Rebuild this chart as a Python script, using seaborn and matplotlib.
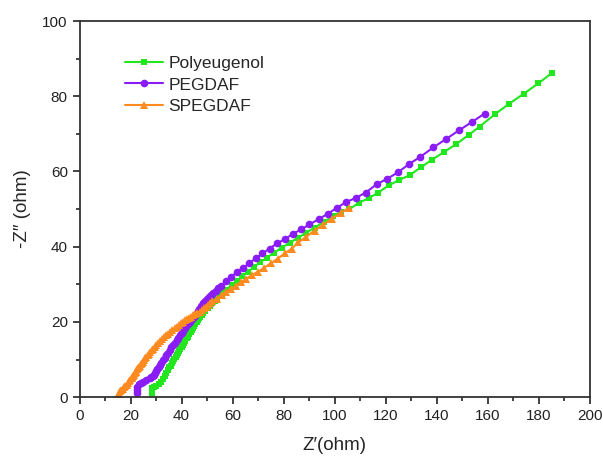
import matplotlib
matplotlib.use("Agg")
import matplotlib.pyplot as plt
import seaborn as sns
import pandas as pd
from matplotlib.ticker import MultipleLocator

sns.set_theme(style="ticks")
plt.rcParams['font.family'] = ['Liberation Sans', 'DejaVu Sans']

poly_x = [28.3, 28.2, 28.5, 29.2, 30.1, 31.1, 32.1, 32.8, 33.4, 34.0, 34.7, 35.2, 35.7, 36.2, 36.7, 37.2,
          37.6, 38.1, 38.6, 39.0, 39.5, 40.0, 40.5, 41.0, 41.5, 42.0, 42.5, 43.0, 43.5, 44.0, 44.5, 45.0,
          45.4, 45.9, 46.4, 46.9, 47.4, 47.9, 48.4, 49.3, 50.3, 51.1, 52.0, 52.9, 53.8, 54.7, 55.7, 56.6,
          57.6, 59.6, 61.6, 63.7, 66.0, 68.4, 70.9, 73.5,
          76.3, 79.2, 82.3, 85.5, 88.8, 92.2, 95.8, 99.5, 102.5, 105.8, 109.6, 113.4, 117.1, 121.2, 125.2,
          129.4, 133.8, 138.1, 142.7, 147.5, 152.5, 156.8, 162.8, 168.4, 174.2, 179.8, 185.4]
poly_y = [0.8, 1.6, 2.4, 2.7, 3.0, 3.5, 4.1, 4.8, 5.5, 6.4, 7.3, 7.9, 8.4, 9.0, 9.5, 10.1,
          10.6, 11.2, 11.7, 12.3, 12.8, 13.4, 13.9, 14.5, 15.0, 15.6, 16.1, 16.7, 17.2, 17.8, 18.3, 18.9,
          19.4, 20.0, 20.5, 21.0, 21.4, 21.9, 22.3, 23.0, 23.6, 24.3, 25.0, 25.6, 26.2, 26.8, 27.4, 28.0,
          28.6, 29.8, 30.9, 32.1, 33.3, 34.6, 35.9, 37.1,
          38.4, 39.7, 41.0, 42.3, 43.7, 45.1, 46.6, 48.2, 49.3, 50.0, 51.7, 52.9, 54.4, 56.3, 57.7,
          59.0, 61.1, 63.1, 65.1, 67.2, 69.7, 71.9, 75.2, 78.0, 80.7, 83.4, 86.3]

peg_x = [22.6, 22.4, 22.6, 23.3, 24.0, 24.9, 26.2, 27.5, 28.1, 28.6, 29.1, 29.5, 30.0, 30.5, 31.0, 31.4,
         32.0, 32.7, 33.3, 34.0, 34.6, 35.3, 36.0, 36.7, 37.3, 38.0, 38.6, 39.3, 40.0, 40.6, 41.3, 41.9,
         42.5, 43.2, 43.8, 44.5, 45.1, 45.8, 46.3, 46.9, 47.5, 48.2, 49.0, 49.8, 50.6, 51.5, 52.4, 53.4,
         54.4, 55.4, 57.4, 59.5, 61.7, 64.0, 66.5, 69.1, 71.7,
         74.5, 77.5, 80.5, 83.6, 86.9, 90.1, 93.7, 97.2, 100.8, 104.6, 108.4, 112.2, 116.5, 120.7, 124.9,
         129.0, 133.4, 138.7, 143.6, 148.7, 153.7, 158.8]
peg_y = [1.2, 2.0, 2.8, 3.5, 3.8, 4.1, 4.5, 5.0, 5.3, 5.6, 6.0, 6.4, 6.9, 7.5, 8.0, 8.6,
         9.2, 9.9, 10.5, 11.2, 11.8, 12.5, 13.2, 13.9, 14.5, 15.2, 15.8, 16.5, 17.1, 17.7, 18.3, 18.8,
         19.4, 19.9, 20.5, 21.0, 21.6, 22.1, 22.8, 23.5, 24.2, 25.0, 25.5, 26.0, 26.6, 27.2, 27.7, 28.3,
         29.0, 29.6, 30.8, 32.0, 33.3, 34.3, 35.6, 36.9, 38.2,
         39.5, 40.9, 42.0, 43.4, 44.6, 45.9, 47.3, 48.7, 50.3, 51.9, 53.0, 54.4, 56.6, 58.1, 59.8,
         61.9, 63.8, 66.4, 68.6, 70.9, 73.1, 75.4]

speg_x = [15.1, 15.3, 15.6, 16.0, 16.4, 16.9, 17.4, 17.9, 18.4, 18.9, 19.4, 19.9, 20.4, 20.7, 21.0, 21.3,
          21.6, 22.0, 22.3, 22.6, 22.9, 23.2, 23.6, 24.0, 24.3, 24.7, 25.2, 25.7, 26.2, 26.7, 27.2, 27.7,
          28.2, 28.8, 29.5, 30.1, 30.8, 31.6, 32.4, 33.2, 34.0, 34.8, 35.6, 36.4, 37.3, 38.1, 38.9, 39.7,
          40.5, 41.3, 42.1, 43.0, 43.8, 44.6, 45.4, 46.2, 47.1, 47.9, 48.7, 49.4, 50.2, 51.1, 52.1,
          53.9, 55.7, 57.5, 59.5, 61.4, 63.4, 65.4, 67.7, 70.1, 72.4, 75.0, 77.6, 80.4, 83.2, 85.8, 88.8,
          92.1, 95.5, 98.9, 102.4, 105.8]
speg_y = [0.6, 0.9, 1.2, 1.5, 1.9, 2.2, 2.6, 2.9, 3.3, 3.8, 4.2, 4.6, 5.0, 5.3, 5.7, 6.0,
          6.4, 6.7, 7.0, 7.4, 7.7, 8.0, 8.3, 8.7, 9.0, 9.4, 9.9, 10.3, 10.8, 11.2, 11.6, 12.0,
          12.4, 12.9, 13.4, 13.8, 14.3, 14.8, 15.4, 15.9, 16.5, 16.9, 17.4, 17.8, 18.3, 18.7, 19.2, 19.6,
          20.1, 20.4, 20.8, 21.1, 21.4, 21.8, 22.1, 22.4, 22.7, 23.1, 23.6, 24.0, 24.5, 25.0, 25.5,
          26.2, 27.1, 28.0, 28.8, 29.6, 30.6, 31.5, 32.5, 33.4, 34.4, 35.6, 36.8, 38.2, 39.5, 41.2, 42.6,
          44.3, 45.8, 47.4, 49.0, 50.4]

series = [
    ("Polyeugenol", poly_x, poly_y, "#22e61e", "s", 4.5),
    ("PEGDAF", peg_x, peg_y, "#8a1cf5", "o", 5.5),
    ("SPEGDAF", speg_x, speg_y, "#ff8a1f", "^", 5.5),
]

fig = plt.figure(figsize=(6.03, 4.57), dpi=100)
ax = fig.add_axes([0.132, 0.131, 0.846, 0.823])

for name, xs, ys, col, mk, ms in series:
    df = pd.DataFrame({"x": xs, "y": ys})
    sns.lineplot(data=df, x="x", y="y", ax=ax, sort=False, estimator=None,
                 color=col, marker=mk, markersize=ms, markeredgewidth=0,
                 linewidth=1.5, label=name)

ax.set_xlim(0, 200)
ax.set_ylim(0, 100)
ax.xaxis.set_major_locator(MultipleLocator(20))
ax.xaxis.set_minor_locator(MultipleLocator(10))
ax.yaxis.set_major_locator(MultipleLocator(20))
ax.yaxis.set_minor_locator(MultipleLocator(10))
ax.tick_params(which="major", direction="out", length=5, width=1.2, labelsize=11,
               colors="#222222", top=False, right=False)
ax.tick_params(which="minor", direction="out", length=3, width=1.2, top=False, right=False)
for s in ax.spines.values():
    s.set_linewidth(1.3)
    s.set_color("#333333")

ax.set_xlabel("Z\u2032(ohm)", fontsize=13.5, labelpad=10)
ax.set_ylabel("-Z\u2033 (ohm)", fontsize=13.5, labelpad=8)

leg = ax.legend(loc="upper left", bbox_to_anchor=(0.075, 0.925), frameon=False,
                fontsize=12.5, handlelength=2.2, handletextpad=0.3, labelspacing=0.35,
                borderaxespad=0)

fig.savefig("out.png", dpi=100)
